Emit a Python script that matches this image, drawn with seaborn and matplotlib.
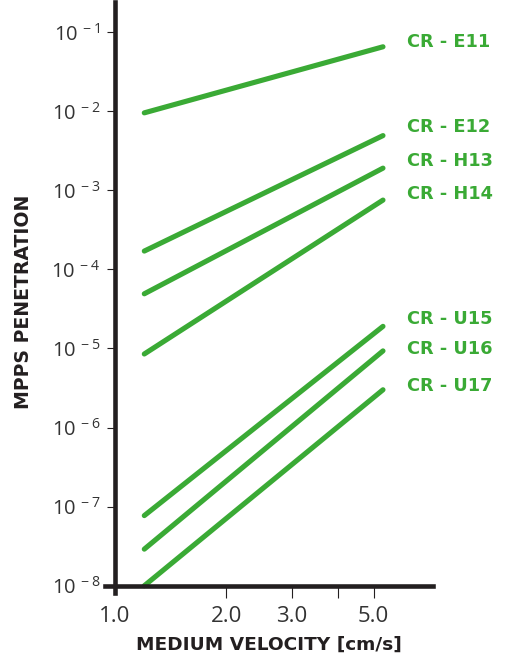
import numpy as np
import pandas as pd
import matplotlib
matplotlib.use('Agg')
import matplotlib.pyplot as plt
import seaborn as sns
from matplotlib.ticker import FixedLocator, FixedFormatter, NullLocator

# filter classes and penetration at the two velocities
filters = ['CR - E11', 'CR - E12', 'CR - H13', 'CR - H14', 'CR - U15', 'CR - U16', 'CR - U17']
velocity = [1.2, 5.3]
pen_start = [9.5e-3, 1.7e-4, 4.9e-5, 8.5e-6, 7.7e-8, 2.9e-8, 1.0e-8]
pen_end = [6.5e-2, 4.9e-3, 1.9e-3, 7.5e-4, 1.9e-5, 9.3e-6, 3.0e-6]

x_ticks = [1.0, 2.0, 3.0, 4.0, 5.0]
x_ticklabels = ['1.0', '2.0', '3.0', '', '5.0']
y_exponents = [-8, -7, -6, -5, -4, -3, -2, -1]

GREEN = '#3aaa35'
DARK = '#231f20'
BOLD_FONT = ['DejaVu Sans']

rows = []
for name, a, b in zip(filters, pen_start, pen_end):
    rows.append({'filter': name, 'velocity': velocity[0], 'penetration': a})
    rows.append({'filter': name, 'velocity': velocity[1], 'penetration': b})
df = pd.DataFrame(rows)

sns.set_style('white')
plt.rcParams['font.family'] = ['Open Sans', 'DejaVu Sans']
plt.rcParams['mathtext.default'] = 'regular'

fig = plt.figure(figsize=(5.1, 6.53), dpi=100)
ax = fig.add_axes([105 / 510, 60 / 653, 328 / 510, 591 / 653])
ax.set_xscale('log')
ax.set_yscale('log')

sns.lineplot(data=df, x='velocity', y='penetration', units='filter',
             estimator=None, sort=False, color=GREEN, linewidth=3.7, ax=ax)
for line in ax.lines:
    line.set_solid_capstyle('round')

# label offsets (points) from the end of each line
label_dy = [3.4, 6.0, 4.8, 4.3, 5.5, 1.2, 2.9]
for name, yend, dy in zip(filters, pen_end, label_dy):
    ax.annotate(name, xy=(velocity[-1], yend), xytext=(17, dy),
                textcoords='offset points', ha='left', va='center',
                color=GREEN, fontweight='bold', fontsize=12.8,
                family=BOLD_FONT, annotation_clip=False)

ax.set_xlim(10 ** (-10 / 370), 10 ** (318 / 370))
ax.set_ylim(10 ** -8.092, 10 ** -0.621)

ax.spines[['top', 'right']].set_visible(False)
ax.spines['left'].set_position(('data', 1.0))
ax.spines['bottom'].set_position(('data', 1e-8))
for s in ['left', 'bottom']:
    ax.spines[s].set_linewidth(3.3)
    ax.spines[s].set_color(DARK)

ax.xaxis.set_major_locator(FixedLocator(x_ticks))
ax.xaxis.set_major_formatter(FixedFormatter(x_ticklabels))
ax.xaxis.set_minor_locator(NullLocator())
ax.yaxis.set_major_locator(FixedLocator([10.0 ** e for e in y_exponents]))
ax.yaxis.set_major_formatter(FixedFormatter(['10$^{\\,%d}$' % e for e in y_exponents]))
ax.yaxis.set_minor_locator(NullLocator())

ax.tick_params(axis='x', direction='out', length=8.6, width=0.8, color=DARK,
               pad=6, labelsize=16, labelcolor='#333333', bottom=True)
ax.tick_params(axis='y', direction='out', length=5.8, width=0.8, color=DARK,
               pad=5, labelsize=14.5, labelcolor='#333333', left=True)
ax.xaxis.get_major_ticks()[0].tick1line.set_visible(False)

ax.set_xlabel('MEDIUM VELOCITY [cm/s]', fontsize=13.3, fontweight='bold',
              family=BOLD_FONT, color=DARK, va='center')
ax.xaxis.set_label_coords(0.5, (593 - 645) / 591)
ax.set_ylabel('MPPS PENETRATION', fontsize=13.6, fontweight='bold',
              family=BOLD_FONT, color=DARK, va='center')
ax.yaxis.set_label_coords((24 - 105) / 328, 0.492)

fig.savefig('out.png', dpi=100)
plt.close(fig)
